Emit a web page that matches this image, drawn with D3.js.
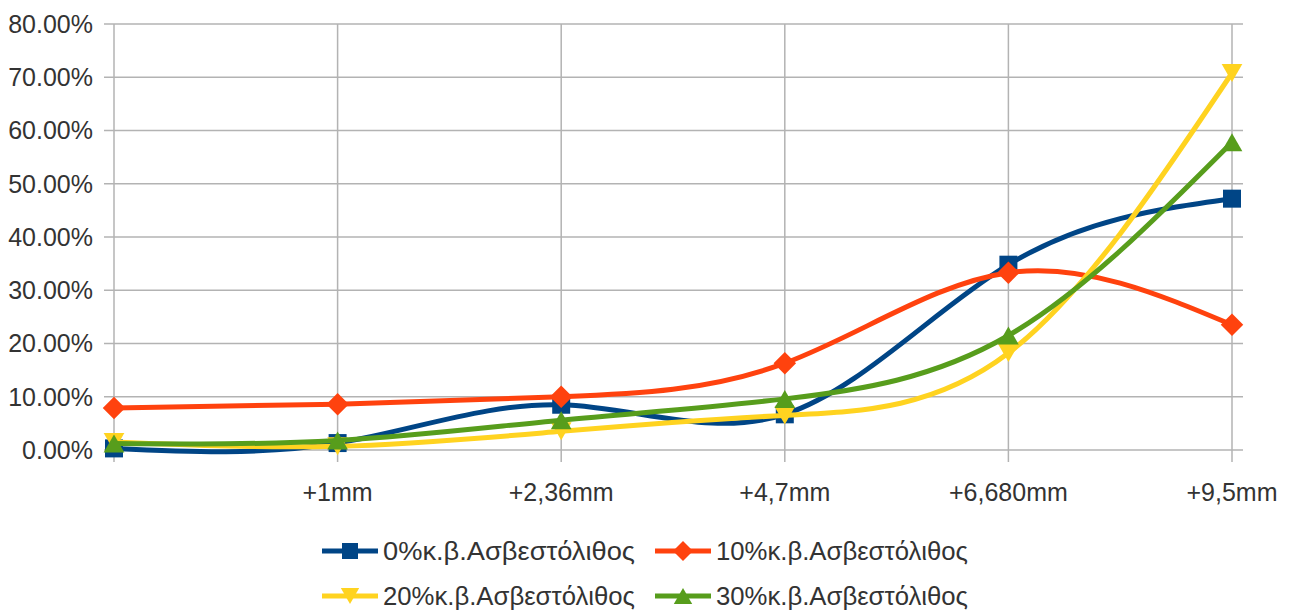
<!DOCTYPE html>
<html><head><meta charset="utf-8">
<script src="https://cdn.jsdelivr.net/npm/d3@7"></script>
<style>body{margin:0;background:#fff}svg{display:block}text{font-family:"Liberation Sans",Arial,sans-serif;fill:#333}</style>
</head><body>
<svg id="c" width="1289" height="610"></svg>
<script>
const categories = ["", "+1mm", "+2,36mm", "+4,7mm", "+6,680mm", "+9,5mm"];
const seriesNames = ["0%κ.β.Ασβεστόλιθος", "10%κ.β.Ασβεστόλιθος", "20%κ.β.Ασβεστόλιθος", "30%κ.β.Ασβεστόλιθος"];
const s0 = [0.3, 1.3, 8.5, 6.7, 34.8, 47.2];
const s10 = [7.9, 8.6, 10.0, 16.3, 33.3, 23.5];
const s20 = [1.5, 0.7, 3.5, 6.5, 18.2, 70.8];
const s30 = [1.2, 1.8, 5.6, 9.6, 21.5, 57.8];
const yTicks = [0, 10, 20, 30, 40, 50, 60, 70, 80];
const colors = ["#004586", "#ff420e", "#ffd320", "#579d1c"];
const shapes = ["square", "diamond", "down", "up"];
const allSeries = [s0, s10, s20, s30];

const svg = d3.select("#c");
const x = d3.scalePoint().domain(categories.map((d,i)=>i)).range([114, 1232]);
const y = d3.scaleLinear().domain([0, 80]).range([450, 24]);

const grid = svg.append("g").attr("stroke", "#b3b3b3").attr("stroke-width", 1.5);
yTicks.forEach(t => grid.append("line").attr("x1", 104).attr("x2", 1243).attr("y1", y(t)).attr("y2", y(t)));
categories.forEach((c,i) => grid.append("line").attr("x1", x(i)).attr("x2", x(i)).attr("y1", y(80)).attr("y2", 462));

svg.append("g").selectAll("text").data(yTicks).join("text")
  .attr("x", 93).attr("y", d => y(d)).attr("dy", "0.35em").attr("text-anchor", "end")
  .attr("font-size", 25).text(d => d.toFixed(2) + "%");
svg.append("g").selectAll("text").data(categories).join("text")
  .attr("x", (d,i) => x(i)).attr("y", 501).attr("text-anchor", "middle")
  .attr("font-size", 25).text(d => d);

function marker(g, shape, cx, cy, col, s) {
  let p;
  if (shape === "square") p = `M${cx-s},${cy-s}h${2*s}v${2*s}h${-2*s}Z`;
  else if (shape === "diamond") p = `M${cx},${cy-s*1.25}L${cx+s*1.25},${cy}L${cx},${cy+s*1.25}L${cx-s*1.25},${cy}Z`;
  else if (shape === "down") p = `M${cx-s*1.15},${cy-s}L${cx+s*1.15},${cy-s}L${cx},${cy+s}Z`;
  else p = `M${cx},${cy-s}L${cx+s*1.15},${cy+s}L${cx-s*1.15},${cy+s}Z`;
  g.append("path").attr("d", p).attr("fill", col);
}

const line = d3.line().x((d,i)=>x(i)).y(d=>y(d)).curve(d3.curveNatural);
allSeries.forEach((vals, k) => {
  const g = svg.append("g");
  g.append("path").attr("d", line(vals)).attr("fill", "none").attr("stroke", colors[k]).attr("stroke-width", 5);
  vals.forEach((v,i) => marker(g, shapes[k], x(i), y(v), colors[k], 9));
});

const leg = svg.append("g");
seriesNames.forEach((n,k) => {
  const lx = k % 2 === 0 ? 322 : 655;
  const ly = k < 2 ? 551 : 596;
  leg.append("line").attr("x1", lx).attr("x2", lx + 56).attr("y1", ly).attr("y2", ly)
    .attr("stroke", colors[k]).attr("stroke-width", 5);
  marker(leg, shapes[k], lx + 28, ly, colors[k], 8);
  leg.append("text").attr("x", lx + 61).attr("y", ly).attr("dy", "0.35em").attr("font-size", 25)
    .attr("textLength", 252).attr("lengthAdjust", "spacingAndGlyphs").text(n);
});
</script>
</body></html>
